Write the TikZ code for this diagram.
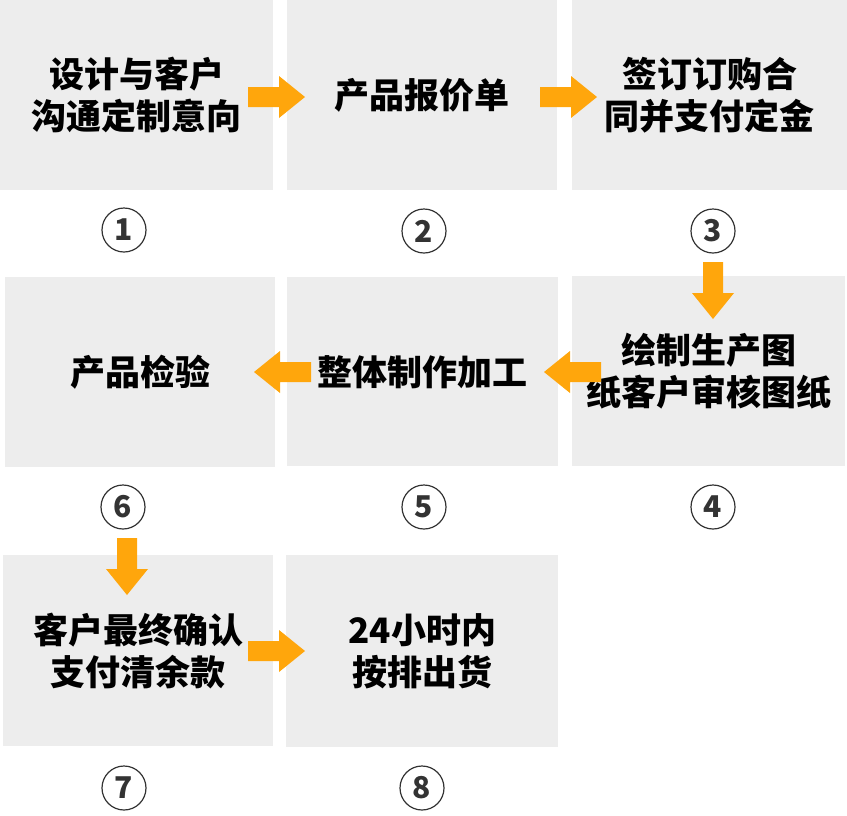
\documentclass[tikz,border=0pt]{standalone}
\usepackage{fontspec}
\newfontfamily\cjk{Noto Sans CJK SC}
\definecolor{boxgray}{RGB}{237,237,237}
\definecolor{arrowor}{RGB}{255,166,12}
\definecolor{numgray}{RGB}{51,51,51}
\tikzset{
  box/.style={fill=boxgray, anchor=north west, inner sep=0pt, align=center,
    font=\cjk\bfseries\fontsize{35}{42}\selectfont, text=black},
  numc/.style={circle, draw=numgray, line width=1.2pt, minimum size=44pt, inner sep=0pt,
    text=numgray, font=\cjk\bfseries\fontsize{30}{30}\selectfont},
  barrow/.pic={\fill[arrowor] (0,-10)--(31,-10)--(31,-21)--(57,0)--(31,21)--(31,10)--(0,10)--cycle;}
}
\begin{document}
\begin{tikzpicture}[x=1pt,y=-1pt]
\useasboundingbox (0,0) rectangle (847,815);
\node[box, minimum width=273pt, minimum height=190pt] (b1) at (0,0) {设计与客户\\沟通定制意向};
\node[box, minimum width=270pt, minimum height=190pt] (b2) at (287,0) {产品报价单};
\node[box, minimum width=275pt, minimum height=190pt] (b3) at (572,0) {签订订购合\\同并支付定金};
\node[box, minimum width=273pt, minimum height=190pt] (b4) at (572,276) {绘制生产图\\纸客户审核图纸};
\node[box, minimum width=271pt, minimum height=189pt] (b5) at (287,277) {整体制作加工};
\node[box, minimum width=270pt, minimum height=190pt] (b6) at (5,277) {产品检验};
\node[box, minimum width=270pt, minimum height=191pt] (b7) at (3,555) {客户最终确认\\支付清余款};
\node[box, minimum width=272pt, minimum height=192pt] (b8) at (286,555) {24小时内\\按排出货};

\node[numc] (c1) at (124,230) {1};
\node[numc] (c2) at (424,231) {2};
\node[numc] (c3) at (713,231) {3};
\node[numc] (c4) at (713,507) {4};
\node[numc] (c5) at (424,507) {5};
\node[numc] (c6) at (123,507) {6};
\node[numc] (c7) at (124,788) {7};
\node[numc] (c8) at (422,788) {8};

\pic (a12) at (248,97) {barrow};
\pic (a23) at (540,97) {barrow};
\pic[rotate=-90] (a34) at (713,262) {barrow};
\pic[rotate=180] (a45) at (601,372) {barrow};
\pic[rotate=180] (a56) at (311,372) {barrow};
\pic[rotate=-90] (a67) at (127,538) {barrow};
\pic (a78) at (248,651) {barrow};
\end{tikzpicture}
\end{document}
